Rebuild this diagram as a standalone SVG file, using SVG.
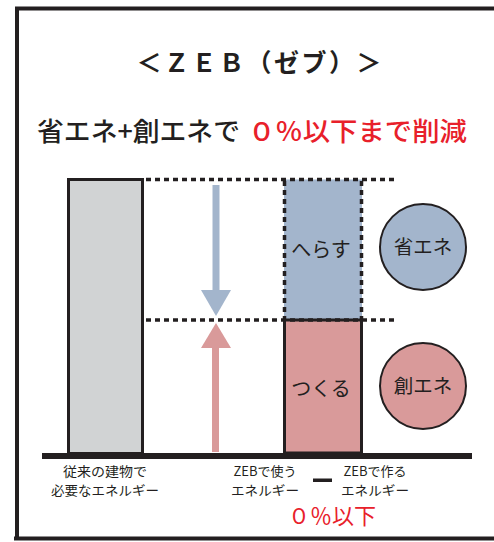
<svg xmlns="http://www.w3.org/2000/svg" width="494" height="542" viewBox="0 0 494 542">
<style>
text{font-family:"Noto Sans CJK JP","Noto Sans",sans-serif;fill:#231f20}
.red{fill:#e8202a}
.dot{stroke:#231f20;stroke-width:3.5;stroke-dasharray:5 4;fill:none}
.bar{stroke:#231f20;stroke-width:3}
.lbl{font-size:13px;text-anchor:middle}
</style>
<rect width="494" height="542" fill="#fff"/>
<path d="M17 538.5V8.5H500" fill="none" stroke="#231f20" stroke-width="4"/>
<path d="M14 538.5H500" fill="none" stroke="#231f20" stroke-width="4"/>
<g id="title">
<text x="259" y="72" font-size="25" font-weight="700" text-anchor="middle" textLength="245" lengthAdjust="spacing">＜ＺＥＢ（ゼブ）＞</text>
</g>
<g id="subtitle">
<text x="37" y="141" font-size="26" font-weight="500" textLength="203" lengthAdjust="spacingAndGlyphs">省エネ+創エネで</text>
<text x="248" y="141" font-size="26" font-weight="500" class="red" textLength="219" lengthAdjust="spacingAndGlyphs">０％以下まで削減</text>
</g>
<g id="conventional">
<rect x="68.5" y="179.5" width="74" height="274" fill="#d1d3d4" class="bar"/>
</g>
<g id="reduce">
<rect x="284" y="179.5" width="78" height="140.5" fill="#a3b5cc"/>
<path d="M284.5 181V320M361.5 181V320" class="dot"/>
<text x="321" y="257" font-size="20" text-anchor="middle">へらす</text>
</g>
<g id="create">
<rect x="284.5" y="320" width="77" height="133" fill="#d99a9a" class="bar"/>
<text x="321" y="396" font-size="20" text-anchor="middle">つくる</text>
</g>
<g id="saving">
<circle cx="423" cy="247" r="43" fill="#a3b5cc" stroke="#231f20" stroke-width="2"/>
<text x="423" y="254" font-size="19.5" text-anchor="middle">省エネ</text>
</g>
<g id="creation">
<circle cx="423" cy="386" r="43" fill="#d99a9a" stroke="#231f20" stroke-width="2"/>
<text x="423" y="393" font-size="19.5" text-anchor="middle">創エネ</text>
</g>
<g id="connectors">
<path d="M146 179.5H397M146 320H397" class="dot"/>
<path d="M216 185V291" stroke="#a3b5cc" stroke-width="7"/>
<path d="M201 290H231L216 316Z" fill="#a3b5cc"/>
<path d="M215.5 347V452" stroke="#d99a9a" stroke-width="7"/>
<path d="M201 348H231L216 323Z" fill="#d99a9a"/>
</g>
<g id="baseline">
<rect x="42" y="453" width="430" height="6" fill="#231f20"/>
</g>
<g id="labels">
<text x="105" y="476" class="lbl" textLength="84" lengthAdjust="spacingAndGlyphs">従来の建物で</text>
<text x="105" y="495" class="lbl" textLength="108" lengthAdjust="spacingAndGlyphs">必要なエネルギー</text>
<text x="265" y="476" class="lbl">ZEBで使う</text>
<text x="265" y="495" class="lbl" textLength="68" lengthAdjust="spacingAndGlyphs">エネルギー</text>
<text x="375" y="476" class="lbl">ZEBで作る</text>
<text x="375" y="495" class="lbl" textLength="68" lengthAdjust="spacingAndGlyphs">エネルギー</text>
<rect x="313" y="478.5" width="19" height="3.5" fill="#231f20"/>
<text x="332" y="524" font-size="22" text-anchor="middle" class="red">０％以下</text>
</g>
</svg>
